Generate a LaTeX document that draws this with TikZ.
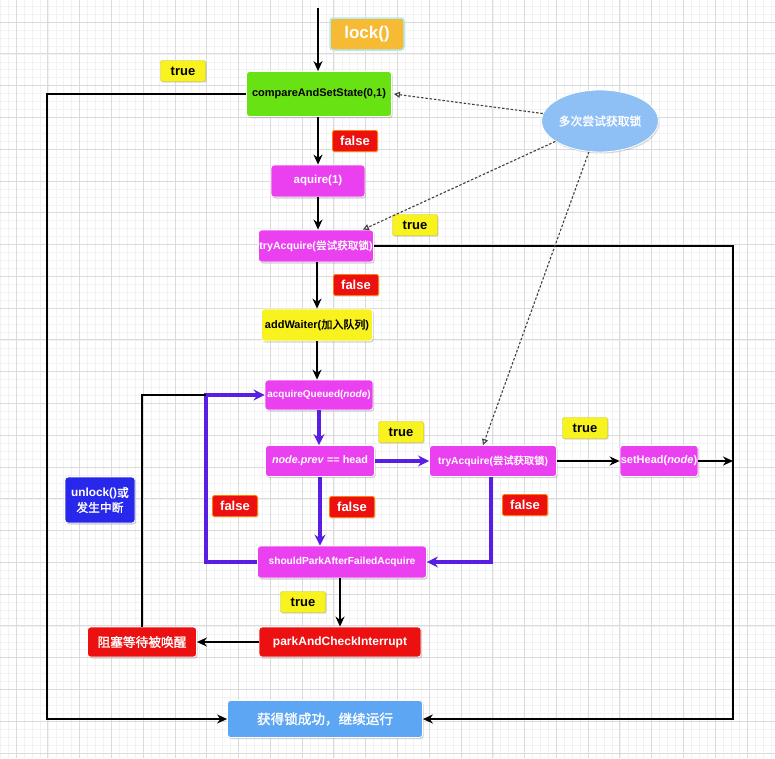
\documentclass[tikz,border=0pt]{standalone}
\usepackage{fontspec}
\setmainfont{Liberation Sans}
\newfontfamily\cjk[AutoFakeBold=1.5]{Noto Sans CJK SC}
\usetikzlibrary{arrows.meta, shapes.geometric, shadows, positioning}

\definecolor{casgreen}{RGB}{104,226,18}
\definecolor{pink}{RGB}{234,64,240}
\definecolor{tagyellow}{RGB}{248,242,30}
\definecolor{boxred}{RGB}{236,16,16}
\definecolor{looppurple}{RGB}{88,30,228}
\definecolor{irqblue}{RGB}{40,40,236}
\definecolor{donblue}{RGB}{92,166,244}
\definecolor{ovalblue}{RGB}{142,192,246}
\definecolor{lockorange}{RGB}{246,186,52}
\definecolor{lockrim}{RGB}{176,236,242}

\begin{document}
\begin{tikzpicture}[x=1pt,y=-1pt]
\tikzstyle{every node}+=[inner sep=0.5pt]
\tikzstyle{flowbox}=[rectangle, rounded corners=3pt, draw=white, line width=0.8pt,
  font=\bfseries\fontsize{11}{13}\selectfont, text=white, minimum height=31pt,
  drop shadow={opacity=0.35, shadow xshift=1.2pt, shadow yshift=-1.5pt}]
\tikzstyle{pinkbox}=[flowbox, fill=pink]
\tikzstyle{redbox}=[flowbox, fill=boxred]
\tikzstyle{tag}=[rectangle, rounded corners=2pt, minimum width=45pt, minimum height=21pt,
  font=\bfseries\fontsize{13}{15}\selectfont,
  drop shadow={opacity=0.3, shadow xshift=1pt, shadow yshift=-1.2pt}]
\tikzstyle{truetag}=[tag, fill=tagyellow, draw=tagyellow!80!black, line width=0.4pt, text=black]
\tikzstyle{falsetag}=[tag, fill=boxred, draw=orange, line width=0.8pt, text=white]
\tikzstyle{flow}=[draw=black, line width=1.6pt, -{Stealth[length=10pt,width=9pt]}]
\tikzstyle{loopflow}=[draw=looppurple, line width=3.2pt, -{Stealth[length=11pt,width=11pt]}]
\tikzstyle{hint}=[draw=black!75, line width=1.1pt, dash pattern=on 2.5pt off 1.8pt,
  -{Triangle[open,length=6pt,width=6pt]}]

\useasboundingbox (0,0) rectangle (775,758);
\fill[white] (0,0) rectangle (775,758);
% grid
\foreach \i in {-2,...,95} \draw[black!5, line width=0.4pt] ({16+\i*7.945},0) -- ++(0,758);
\foreach \j in {-2,...,92} \draw[black!5, line width=0.4pt] (0,{22+\j*7.945}) -- ++(775,0);
\foreach \i in {0,...,23} \draw[black!14, line width=0.7pt] ({16+\i*31.78},0) -- ++(0,758);
\foreach \j in {0,...,23} \draw[black!14, line width=0.7pt] (0,{22+\j*31.78}) -- ++(775,0);

% nodes
\coordinate (start) at (318,8);
\coordinate (leftrail) at (47,0);
\coordinate (rightrail) at (733,0);
\coordinate (looprail) at (206,0);
\node[rectangle, rounded corners=3pt, fill=lockorange, draw=lockrim, line width=1.5pt,
  minimum width=74pt, minimum height=32pt, text=white,
  font=\bfseries\fontsize{17}{19}\selectfont] (lock) at (367,34) {lock()};
\node[flowbox, fill=casgreen, text=black, minimum width=145pt, minimum height=45pt] (cas) at (319,94) {compareAndSetState(0,1)};
\node[pinkbox, minimum width=94pt, minimum height=32pt, font=\bfseries\fontsize{11.5}{13}\selectfont] (aquire) at (318,181) {aquire(1)};
\node[pinkbox, minimum width=115pt, minimum height=32pt, font=\bfseries\fontsize{10.6}{13}\selectfont] (try1) at (316,246) {tryAcquire({\cjk 尝试获取锁})};
\node[flowbox, fill=tagyellow, text=black, minimum width=111pt, minimum height=32pt] (waiter) at (317,325) {addWaiter({\cjk 加入队列})};
\node[pinkbox, minimum width=108pt, minimum height=30pt, font=\bfseries\fontsize{10}{12}\selectfont] (queued) at (319,395) {acquireQueued(\textit{node})};
\node[pinkbox, minimum width=109pt, font=\bfseries\fontsize{10.8}{13}\selectfont] (prev) at (320,461) {\textit{node.prev} == head};
\node[pinkbox, minimum width=127pt, font=\bfseries\fontsize{10.3}{12}\selectfont] (try2) at (493,461) {tryAcquire({\cjk 尝试获取锁})};
\node[pinkbox, minimum width=78pt] (sethead) at (659,461) {setHead(\textit{node})};
\node[pinkbox, minimum width=169pt, minimum height=32pt, font=\bfseries\fontsize{10.2}{12}\selectfont] (should) at (342,562) {shouldParkAfterFailedAcquire};
\node[redbox, minimum width=162pt, minimum height=30pt, font=\bfseries\fontsize{12}{14}\selectfont] (park) at (340,642) {parkAndCheckInterrupt};
\node[redbox, minimum width=109pt, minimum height=30pt, font=\bfseries\fontsize{12.7}{15}\selectfont] (block) at (142,642) {\cjk 阻塞等待被唤醒};
\node[flowbox, fill=irqblue, minimum width=70pt, minimum height=46pt, align=center,
  font=\bfseries\fontsize{11.8}{15}\selectfont] (irq) at (100,500) {unlock(){\cjk 或}\\{\cjk 发生中断}};
\node[flowbox, fill=donblue, minimum width=195pt, minimum height=37pt, font=\bfseries\fontsize{13.6}{16}\selectfont] (done) at (325,719) {\cjk 获得锁成功，继续运行};
\node[ellipse, fill=ovalblue, draw=white, line width=0.8pt, minimum width=93pt, minimum height=62pt,
  inner sep=0pt, text=white, font=\bfseries\fontsize{11.8}{14}\selectfont,
  drop shadow={opacity=0.3, shadow xshift=1pt, shadow yshift=-1.5pt}] (multi) at (600,121) {\cjk 多次尝试获取锁};

% labels
\node[truetag] (t1) at (183,71) {true};
\node[falsetag] (f1) at (355,141) {false};
\node[truetag] (t2) at (415,225) {true};
\node[falsetag] (f2) at (356,285) {false};
\node[truetag] (t3) at (401,432) {true};
\node[truetag] (t4) at (585,428) {true};
\node[falsetag] (f3) at (235,506) {false};
\node[falsetag] (f4) at (352,507) {false};
\node[falsetag] (f5) at (525,505) {false};
\node[truetag] (t5) at (303,602) {true};

% main line
\draw[flow] (start) -- (start |- cas.north);
\draw[flow] (cas.south -| aquire) -- (aquire.north);
\draw[flow] (aquire.south) -- (aquire.south |- try1.north);
\draw[flow] (try1.south -| waiter) -- (waiter.north);
\draw[flow] (waiter.south) -- (waiter.south |- queued.north);
\draw[flow] (cas.west) -- (cas.west -| leftrail) |- (done.west);
\draw[flow] (try1.east) -- (try1.east -| rightrail) |- (done.east);
\draw[loopflow] (queued.south) -- (queued.south |- prev.north);
\draw[loopflow] (prev.east) -- (try2.west);
\draw[flow] (try2.east) -- (sethead.west);
\draw[flow] (sethead.east) -- (sethead.east -| rightrail);
\draw[loopflow] (prev.south) -- (prev.south |- should.north);
\draw[loopflow] ([xshift=-2pt]try2.south) |- (should.east);
\draw[loopflow] (should.west) -- (should.west -| looprail) |- (queued.west);
\draw[flow] (should.south -| park) -- (park.north);
\draw[flow] (park.west) -- (block.east);
\draw[line width=1.6pt] (block.north) |- (queued.west -| looprail);

% retries
\draw[hint] (multi) -- ([xshift=2pt]cas.east);
\draw[hint] (multi) -- ([xshift=-11pt]try1.north east);
\draw[hint] (multi) -- ([xshift=-10pt]try2.north);
\end{tikzpicture}
\end{document}
